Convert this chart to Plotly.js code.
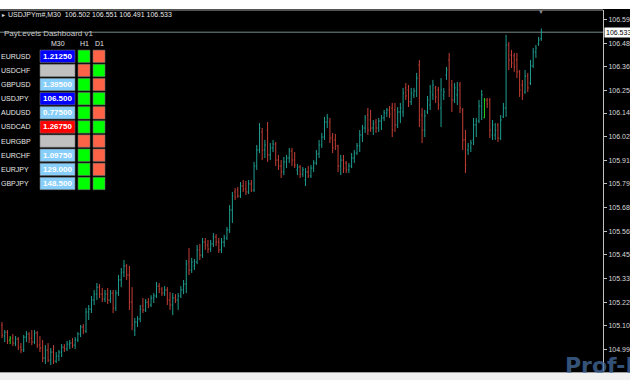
<!DOCTYPE html>
<html><head><meta charset="utf-8">
<script src="https://cdn.plot.ly/plotly-3.0.1.min.js"></script>
<style>
html,body{margin:0;padding:0;background:#fff;width:630px;height:380px;overflow:hidden;}
#chart{position:absolute;left:0;top:9px;width:630px;height:371px;}
</style></head><body>
<div id="chart"></div>
<script>
// ---- OHLC data (USDJPYm#, M30) ----
const opens = [
105.109,105.055,105.074,105.036,105.045,105.021,105.040,105.001,104.987,105.050,
105.065,105.045,105.026,105.070,105.011,104.997,104.948,104.987,104.938,104.977,
104.933,104.958,104.977,105.001,104.992,105.016,105.021,105.011,105.036,105.065,
105.099,105.079,105.172,105.186,105.230,105.259,105.293,105.259,105.235,105.259,
105.230,105.264,105.191,105.264,105.328,105.366,105.396,105.352,105.220,105.084,
105.123,105.138,105.201,105.182,105.220,105.206,105.240,105.250,105.298,105.284,
105.264,105.279,105.230,105.206,105.240,105.230,105.250,105.279,105.308,105.415,
105.376,105.396,105.415,105.474,105.449,105.512,105.498,105.478,105.503,105.537,
105.512,105.474,105.512,105.532,105.571,105.668,105.756,105.765,105.736,105.785,
105.770,105.756,105.795,105.765,105.882,105.960,106.048,105.960,106.057,105.936,
105.970,105.989,105.911,105.882,105.853,105.902,105.921,105.955,105.911,105.863,
105.877,105.843,105.814,105.853,105.834,105.872,105.897,105.941,105.984,106.023,
106.096,106.096,106.018,106.009,105.980,105.882,105.911,105.897,105.863,105.882,
105.921,105.945,105.980,106.033,106.067,106.130,106.106,106.067,106.096,106.067,
106.101,106.116,106.140,106.155,106.164,106.155,106.082,106.145,106.145,106.262,
106.252,106.194,106.228,106.247,106.374,106.130,106.057,106.145,106.179,106.228,
106.262,106.252,106.164,106.228,106.325,106.398,106.276,106.203,106.228,106.276,
106.155,106.009,105.960,105.970,106.009,106.082,106.101,106.174,106.116,106.203,
106.203,106.033,106.033,106.082,106.018,106.121,106.164,106.471,106.422,106.418,
106.398,106.340,106.276,106.242,106.320,106.286,106.369,106.437,106.476,106.502];
const highs = [
105.123,105.084,105.084,105.055,105.065,105.055,105.050,105.021,105.060,105.079,
105.074,105.084,105.084,105.079,105.055,105.036,105.011,105.021,104.997,105.011,
104.977,104.987,105.016,105.016,105.031,105.036,105.045,105.050,105.074,105.109,
105.113,105.191,105.206,105.250,105.279,105.313,105.308,105.289,105.279,105.289,
105.279,105.279,105.279,105.352,105.386,105.425,105.405,105.396,105.293,105.143,
105.152,105.206,105.240,105.235,105.240,105.254,105.264,105.318,105.313,105.293,
105.298,105.293,105.269,105.264,105.259,105.264,105.298,105.328,105.425,105.483,
105.435,105.430,105.498,105.503,105.532,105.532,105.522,105.522,105.556,105.551,
105.532,105.532,105.547,105.585,105.692,105.756,105.775,105.780,105.804,105.814,
105.809,105.814,105.814,105.902,105.984,106.091,106.067,106.009,106.096,105.994,
106.009,105.999,105.936,105.911,105.926,105.936,105.970,105.970,105.950,105.892,
105.887,105.877,105.872,105.882,105.887,105.911,105.960,106.009,106.043,106.121,
106.135,106.116,106.043,106.038,105.984,105.936,105.936,105.907,105.897,105.945,
105.960,105.994,106.057,106.082,106.130,106.164,106.155,106.106,106.111,106.116,
106.130,106.155,106.164,106.174,106.189,106.189,106.169,106.189,106.262,106.286,
106.276,106.262,106.262,106.335,106.398,106.164,106.155,106.223,106.276,106.301,
106.272,106.267,106.310,106.262,106.364,106.432,106.301,106.286,106.291,106.291,
106.164,106.057,105.994,106.009,106.116,106.116,106.203,106.252,106.213,106.213,
106.213,106.106,106.091,106.091,106.130,106.189,106.520,106.486,106.447,106.432,
106.432,106.349,106.301,106.349,106.335,106.398,106.456,106.471,106.510,106.551];
const lows = [
105.045,105.026,105.016,105.016,105.006,105.006,104.987,104.972,104.977,105.026,
105.021,105.011,105.016,104.997,104.977,104.928,104.919,104.928,104.914,104.919,
104.924,104.933,104.953,104.977,104.982,104.992,104.997,104.992,105.026,105.050,
105.065,105.070,105.133,105.167,105.206,105.230,105.240,105.220,105.220,105.211,
105.216,105.167,105.177,105.250,105.293,105.342,105.328,105.182,105.084,105.055,
105.099,105.123,105.167,105.172,105.191,105.196,105.216,105.240,105.264,105.250,
105.250,105.206,105.182,105.157,105.216,105.182,105.240,105.259,105.264,105.352,
105.362,105.376,105.405,105.425,105.435,105.474,105.459,105.464,105.488,105.493,
105.459,105.459,105.488,105.522,105.556,105.605,105.717,105.727,105.727,105.756,
105.741,105.746,105.756,105.756,105.863,105.945,105.911,105.921,105.902,105.911,
105.950,105.882,105.863,105.824,105.838,105.872,105.897,105.882,105.872,105.838,
105.824,105.829,105.785,105.824,105.824,105.853,105.887,105.921,105.970,106.009,
106.067,105.994,105.945,105.960,105.853,105.838,105.848,105.848,105.848,105.872,
105.897,105.936,105.950,105.999,106.043,106.033,106.048,106.033,106.043,106.048,
106.057,106.101,106.121,106.116,106.023,106.048,106.067,106.091,106.121,106.203,
106.169,106.179,106.213,106.218,106.072,105.994,106.023,106.135,106.155,106.203,
106.189,106.155,106.072,106.203,106.301,106.218,106.145,106.189,106.179,106.140,
105.960,105.848,105.936,105.950,105.984,106.023,106.091,106.106,106.116,106.164,
106.018,106.009,106.009,105.999,106.009,106.116,106.121,106.349,106.359,106.340,
106.310,106.218,106.203,106.233,106.242,106.276,106.359,106.408,106.466,106.491];
const closes = [
105.060,105.074,105.031,105.045,105.021,105.040,105.001,104.987,105.050,105.065,
105.045,105.026,105.070,105.011,104.997,104.948,104.987,104.938,104.977,104.933,
104.958,104.977,105.001,104.992,105.016,105.021,105.011,105.036,105.065,105.099,
105.079,105.172,105.186,105.230,105.259,105.293,105.259,105.235,105.259,105.230,
105.264,105.191,105.264,105.328,105.366,105.396,105.352,105.220,105.109,105.123,
105.138,105.186,105.182,105.220,105.206,105.240,105.250,105.298,105.284,105.264,
105.279,105.230,105.206,105.240,105.230,105.250,105.279,105.308,105.405,105.376,
105.415,105.415,105.474,105.449,105.512,105.498,105.478,105.503,105.537,105.512,
105.474,105.512,105.532,105.571,105.668,105.736,105.731,105.736,105.785,105.770,
105.756,105.795,105.765,105.882,105.960,106.067,105.960,105.984,105.936,105.970,
105.989,105.911,105.882,105.853,105.902,105.921,105.955,105.911,105.887,105.877,
105.843,105.863,105.853,105.834,105.872,105.897,105.941,105.984,106.023,106.096,
106.116,106.018,105.970,105.980,105.882,105.911,105.872,105.863,105.882,105.921,
105.945,105.980,106.033,106.067,106.116,106.057,106.067,106.087,106.067,106.101,
106.116,106.140,106.155,106.135,106.057,106.082,106.145,106.164,106.237,106.223,
106.194,106.237,106.247,106.310,106.106,106.057,106.126,106.203,106.242,106.276,
106.218,106.179,106.252,106.242,106.349,106.252,106.203,106.262,106.252,106.164,
106.009,105.887,105.980,105.994,106.082,106.101,106.174,106.228,106.203,106.184,
106.057,106.082,106.057,106.018,106.106,106.164,106.471,106.398,106.383,106.364,
106.340,106.252,106.228,106.320,106.262,106.369,106.437,106.456,106.495,106.533];
const limeBars = [3, 178];
const lastPrice = 106.533;
const chartTitle = "USDJPYm#,M30  106.502 106.551 106.491 106.533";
const priceTicks = [106.595,106.480,106.365,106.250,106.140,106.025,105.910,105.795,105.680,105.565,105.450,105.335,105.220,105.105,104.990];

// ---- Dashboard data ----
const dashTitle = "PayLevels Dashboard v1";
const dashCols = ["M30","H1","D1"];
const symbols = ["EURUSD","USDCHF","GBPUSD","USDJPY","AUDUSD","USDCAD","EURGBP","EURCHF","EURJPY","GBPJPY"];
const m30Levels = ["1.21250","","1.39500","106.500","0.77500","1.26750","","1.09750","129.000","148.500"];
const m30State = ["strong","none","near","strong","near","below","none","near","near","near"];
const h1State = ["up","down","up","up","up","up","down","up","up","up"];
const d1State = ["down","up","down","up","down","up","down","down","down","up"];
const watermark = "Prof-FX";

const stateColor = {strong:"#0000ff", none:"#c0c0c0", near:"#87cefa", below:"#ff0000", up:"#00ff00", down:"#ff6347"};

// ---- geometry helpers (plot area 0..603 x, 10..371 y in page px) ----
const PW = 603, PT = 10, PB = 371;
const px = v => v / PW;
const py = v => (PB - v) / (PB - PT);

// ---- traces ----
function pick(arr, keep){ return arr.filter((_, i) => keep(i)); }
const idx = opens.map((_, i) => i);
const isLime = i => limeBars.includes(i);
const mainKeep = i => !isLime(i);

const traces = [
  {type:"ohlc", x:pick(idx,mainKeep), open:pick(opens,mainKeep), high:pick(highs,mainKeep), low:pick(lows,mainKeep), close:pick(closes,mainKeep),
   increasing:{line:{color:"#1f9e90", width:1}}, decreasing:{line:{color:"#c43f36", width:1}}, tickwidth:0.35, hoverinfo:"skip"},
  {type:"ohlc", x:pick(idx,isLime), open:pick(opens,isLime), high:pick(highs,isLime), low:pick(lows,isLime), close:pick(closes,isLime),
   increasing:{line:{color:"#22dd22", width:1}}, decreasing:{line:{color:"#22dd22", width:1}}, tickwidth:0.35, hoverinfo:"skip"}
];

// ---- shapes & annotations ----
const shapes = [];
const ann = [];
const txtFont = (s, c, fam, w) => ({family: fam || "Liberation Sans, Arial, sans-serif", size: s, color: c, weight: w || "normal"});

// frame top line
shapes.push({type:"line", xref:"paper", yref:"paper", x0:0, x1:1, y0:1, y1:1, line:{color:"#a8a8a8", width:1}});
// current price line
shapes.push({type:"line", xref:"paper", yref:"y", x0:0, x1:1, y0:lastPrice, y1:lastPrice, line:{color:"#7a8a8a", width:1}, layer:"below"});
// bottom window strip
shapes.push({type:"rect", xref:"paper", yref:"paper", x0:0, x1:630/PW, y0:py(381), y1:py(372), fillcolor:"#f0f0f0", line:{width:0}});
shapes.push({type:"line", xref:"paper", yref:"paper", x0:0, x1:630/PW, y0:py(372.5), y1:py(372.5), line:{color:"#a0a0a0", width:1}});

// chart title
ann.push({xref:"paper", yref:"paper", x:px(0), y:py(15), xanchor:"left", yanchor:"middle", text:"\u25B8", showarrow:false, font:txtFont(6, "#e0e0e0")});
ann.push({xref:"paper", yref:"paper", x:px(6), y:py(15), xanchor:"left", yanchor:"middle", text:chartTitle, showarrow:false, font:txtFont(7, "#e6e6e6")});
// shift marker
ann.push({xref:"paper", yref:"paper", x:px(541), y:py(12), xanchor:"center", yanchor:"middle", text:"\u25BC", showarrow:false, font:txtFont(6, "#8c8c8c")});
// price label
ann.push({xref:"paper", yref:"y", x:px(604), y:lastPrice, xanchor:"left", yanchor:"middle", text:lastPrice.toFixed(3), showarrow:false, bgcolor:"#ffffff", borderpad:1, font:txtFont(7, "#000")});

// dashboard title
ann.push({xref:"paper", yref:"paper", x:px(2), y:py(33.5), xanchor:"left", yanchor:"middle", text:dashTitle, showarrow:false, font:txtFont(8, "#c8c8c8")});
// column headers
const colCenters = [58, 84, 99];
dashCols.forEach((c, j) => ann.push({xref:"paper", yref:"paper", x:px(colCenters[j]), y:py(44), xanchor:"center", yanchor:"middle", text:c, showarrow:false, font:txtFont(7, "#e0e0e0")}));
// rows
symbols.forEach((s, k) => {
  const yc = 56.3 + 14.13 * k;
  const t = yc - 6.2, b = yc + 6.2;
  ann.push({xref:"paper", yref:"paper", x:px(-1), y:py(yc), xanchor:"left", yanchor:"middle", text:s, showarrow:false, font:txtFont(7, "#e6e6e6")});
  shapes.push({type:"rect", xref:"paper", yref:"paper", x0:px(40), x1:px(75), y0:py(b), y1:py(t), fillcolor:stateColor[m30State[k]], line:{width:0.6, color:"#707070"}});
  shapes.push({type:"rect", xref:"paper", yref:"paper", x0:px(78), x1:px(90), y0:py(b), y1:py(t), fillcolor:stateColor[h1State[k]], line:{width:0.6, color:"#707070"}});
  shapes.push({type:"rect", xref:"paper", yref:"paper", x0:px(93), x1:px(105), y0:py(b), y1:py(t), fillcolor:stateColor[d1State[k]], line:{width:0.6, color:"#707070"}});
  if (m30Levels[k]) ann.push({xref:"paper", yref:"paper", x:px(57.5), y:py(yc), xanchor:"center", yanchor:"middle", text:m30Levels[k], showarrow:false, font:txtFont(8, "#ffffff", null, "bold")});
});

// watermark (partly cut by the window edge)
ann.push({xref:"paper", yref:"paper", x:px(563), y:py(380), xanchor:"left", yanchor:"bottom", text:watermark, showarrow:false, font:txtFont(22, "rgba(70,110,160,0.75)", "DejaVu Sans, sans-serif", "bold")});

const layout = {
  width:630, height:371,
  margin:{l:0, r:27, t:1, b:9, pad:0},
  paper_bgcolor:"#000", plot_bgcolor:"#000",
  showlegend:false, hovermode:false, dragmode:false,
  xaxis:{range:[-0.74, 221.76], showgrid:false, zeroline:false, showticklabels:false, ticks:"", showline:false, rangeslider:{visible:false}, fixedrange:true},
  yaxis:{side:"right", range:[104.885, 106.641], showgrid:false, zeroline:false, tickmode:"array", tickvals:priceTicks, ticktext:priceTicks.map(v => v.toFixed(3)),
         ticks:"outside", ticklen:3, tickcolor:"#c0c0c0", showline:true, linecolor:"#c0c0c0", linewidth:1,
         tickfont:txtFont(7, "#d8d8d8"), fixedrange:true},
  shapes:shapes, annotations:ann
};
Plotly.newPlot("chart", traces, layout, {displayModeBar:false, staticPlot:true});
</script>
</body></html>
